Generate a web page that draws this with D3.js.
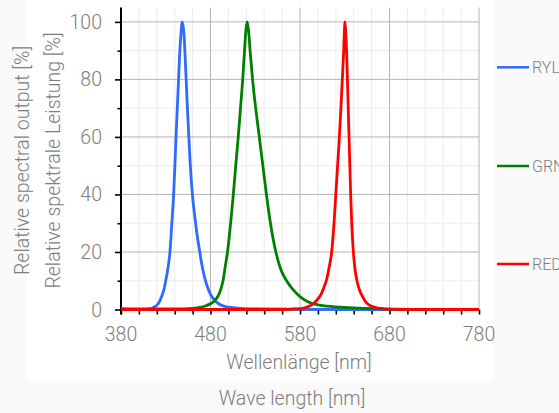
<!DOCTYPE html>
<html>
<head>
<meta charset="utf-8">
<script src="https://cdn.jsdelivr.net/npm/d3@7"></script>
<style>
    html, body { margin: 0; padding: 0; background: #fafafa; }
    svg { display: block; font-family: Roboto, "Open Sans", sans-serif; }
</style>
</head>
<body>
<svg id="chart" width="559" height="413"></svg>
<script>
/* ======================= DATA ========================== */
/* ======================================================= */

// wavelength [nm] / relative output [%]
const rylNm  = [380, 405, 412, 417, 421.5, 425, 428, 430, 432.5, 434.7, 436.8, 438.8, 440.2, 441.5, 442.9, 444.3, 445.6, 446.8, 448.5,
                450.3, 452.5, 454.2, 455.8, 457.3, 459, 460.7, 462.6, 465, 468, 471, 474, 477, 480, 484, 489, 495, 503, 515, 540, 580, 610, 630, 780];
const rylVal = [0, 0, 0.2, 0.8, 2, 4.2, 7, 10, 14.5, 20, 30, 40, 50, 60, 70, 80, 89, 95, 100,
                96, 82, 70, 60, 51, 43, 37, 32, 26, 20, 14.5, 10.5, 7.5, 5.3, 3.4, 2, 1.2, 0.7, 0.4, 0.2, 0.1, 0.05, 0, 0];

const grnNm  = [380, 400, 440, 460, 468, 475, 480, 485, 489, 491.5, 494, 496.5, 499, 502.5, 505.5, 508.2, 511, 513.5, 516, 518, 519.5, 521,
                522.5, 524.5, 527, 530.5, 534.5, 538.5, 542.5, 547, 553, 558.5, 565, 572, 580, 590, 602, 625, 650, 680, 780];
const grnVal = [0.3, 0.2, 0.2, 0.4, 0.7, 1.3, 2, 3.2, 5, 7, 10, 15, 20, 30, 40, 50, 60, 70, 80, 90, 97, 100,
                97, 89, 80, 70, 60, 50, 40, 30, 20, 14, 10, 7, 4.5, 2.5, 1.5, 0.8, 0.4, 0.1, 0];

const redNm  = [380, 560, 575, 584, 590, 595, 599, 603, 606.5, 609.8, 612.8, 615.4, 618, 620, 622, 624, 625.7, 627.3, 628.8, 629.5, 630.3,
                631.1, 632, 632.8, 633.8, 634.8, 635.7, 636.6, 637.8, 639.6, 641.5, 644, 646.5, 649, 654.6, 660, 667, 680, 700, 780];
const redVal = [0, 0, 0.2, 0.5, 1.1, 2, 3.3, 5, 7.5, 10.5, 15, 20, 30, 40, 50, 60, 70, 80, 90, 96, 100,
                96, 90, 82, 71, 60, 50, 40, 30, 20, 14, 9.5, 6.8, 5, 2.2, 1.1, 0.5, 0.15, 0, 0];

const seriesNames  = ["RYL", "GRN", "RED"];
const seriesColors = ["#2f6bff", "#008000", "#ff0000"];

const xTicks      = [380, 480, 580, 680, 780];
const yTicks      = [0, 20, 40, 60, 80, 100];
const xTitleDe    = "Wellenlänge [nm]";
const xTitleEn    = "Wave length [nm]";
const yTitleEn    = "Relative spectral output [%]";
const yTitleDe    = "Relative spektrale Leistung [%]";

/* ======================= SETUP ========================= */
/* ======================================================= */

const margin = {left: 121, top: 7.5};
const viewWidth = 358;
const viewHeight = 302;
const textGrey = "#7d7d7d";
const labelSize = 19.5;

let svg = d3.select("#chart");

let xScale = d3.scaleLinear()
               .domain([380, 780])
               .range([margin.left, margin.left + viewWidth]);
let yScale = d3.scaleLinear()
               .domain([0, 105])
               .range([margin.top + viewHeight, margin.top]);

function translate(x, y) {
    return "translate(" + x + "," + y + ")";
}

function drawBackground() {
    svg.append("rect")
       .attr("x", 27).attr("y", 0)
       .attr("width", 466).attr("height", 381)
       .attr("fill", "#ffffff");
}

function drawGrid() {
    let minorX = d3.range(400, 781, 20).filter(d => d % 100 !== 80);
    let minorY = d3.range(10, 101, 20);
    let grid = svg.append("g").attr("id", "grid");

    grid.selectAll(".vminor").data(minorX).enter().append("line")
        .attr("x1", d => xScale(d)).attr("x2", d => xScale(d))
        .attr("y1", margin.top).attr("y2", margin.top + viewHeight)
        .attr("stroke", "#ececec").attr("stroke-width", 1);
    grid.selectAll(".hminor").data(minorY).enter().append("line")
        .attr("x1", margin.left).attr("x2", margin.left + viewWidth)
        .attr("y1", d => yScale(d)).attr("y2", d => yScale(d))
        .attr("stroke", "#ececec").attr("stroke-width", 1);
    grid.selectAll(".vmajor").data(xTicks.slice(1)).enter().append("line")
        .attr("x1", d => xScale(d)).attr("x2", d => xScale(d))
        .attr("y1", margin.top).attr("y2", margin.top + viewHeight)
        .attr("stroke", "#b4b4b4").attr("stroke-width", 1);
    grid.selectAll(".hmajor").data(yTicks.slice(1)).enter().append("line")
        .attr("x1", margin.left).attr("x2", margin.left + viewWidth)
        .attr("y1", d => yScale(d)).attr("y2", d => yScale(d))
        .attr("stroke", "#b4b4b4").attr("stroke-width", 1);
}

function drawAxes() {
    let axisX = svg.append("g")
                   .attr("transform", translate(0, margin.top + viewHeight));
    axisX.call(d3.axisBottom(xScale).tickValues(d3.range(380, 781, 20)).tickSize(5).tickFormat(""));
    axisX.call(g => g.select(".domain").remove());
    axisX.selectAll(".tick line").attr("stroke", "#000").attr("stroke-width", 1.6);

    svg.append("g").selectAll("text").data(xTicks).enter().append("text")
       .attr("x", d => xScale(d)).attr("y", 340.5)
       .attr("text-anchor", "middle")
       .attr("font-size", labelSize).attr("font-weight", 300)
       .attr("fill", textGrey)
       .text(d => d);

    let axisY = svg.append("g")
                   .attr("transform", translate(margin.left, 0));
    axisY.call(d3.axisLeft(yScale).tickValues(d3.range(0, 101, 10)).tickSize(6).tickFormat(""));
    axisY.select(".domain").attr("stroke", "#000").attr("stroke-width", 2)
         .attr("d", "M0," + margin.top + "V" + (margin.top + viewHeight + 5));
    axisY.selectAll(".tick line")
         .attr("stroke", "#000").attr("stroke-width", 1.6)
         .attr("x2", d => d % 20 === 0 ? -6 : -3.5);

    svg.append("g").selectAll("text").data(yTicks).enter().append("text")
       .attr("x", 102).attr("y", d => yScale(d) + 7)
       .attr("text-anchor", "end")
       .attr("font-size", labelSize).attr("font-weight", 300)
       .attr("fill", textGrey)
       .text(d => d);

    // x axis base line, sits under the curves
    svg.append("line")
       .attr("x1", margin.left).attr("x2", margin.left + viewWidth)
       .attr("y1", yScale(0)).attr("y2", yScale(0))
       .attr("stroke", "#000").attr("stroke-width", 2);
}

function drawTitles() {
    let titles = [
        {t: xTitleDe, x: 299, y: 368.5},
        {t: xTitleEn, x: 292, y: 405}
    ];
    svg.append("g").selectAll("text").data(titles).enter().append("text")
       .attr("x", d => d.x).attr("y", d => d.y)
       .attr("text-anchor", "middle")
       .attr("font-size", labelSize).attr("font-weight", 300)
       .attr("fill", textGrey)
       .text(d => d.t);

    let yTitles = [
        {t: yTitleEn, x: 29, y: 160.5},
        {t: yTitleDe, x: 60, y: 160.5}
    ];
    svg.append("g").selectAll("text").data(yTitles).enter().append("text")
       .attr("transform", d => translate(d.x, d.y) + " rotate(-90)")
       .attr("text-anchor", "middle")
       .attr("font-size", labelSize).attr("font-weight", 300)
       .attr("fill", textGrey)
       .text(d => d.t);
}

function drawSeries() {
    let series = [
        d3.zip(rylNm, rylVal),
        d3.zip(grnNm, grnVal),
        d3.zip(redNm, redVal)
    ];
    let line = d3.line()
                 .x(d => xScale(d[0]))
                 .y(d => yScale(d[1]))
                 .curve(d3.curveMonotoneX);

    svg.append("g").selectAll("path").data(series).enter().append("path")
       .attr("d", line)
       .attr("fill", "none")
       .attr("stroke", (d, i) => seriesColors[i])
       .attr("stroke-width", 2.8)
       .attr("stroke-linejoin", "round");
}

function drawLegend() {
    let legendY = [67.3, 166, 264];
    let legend = svg.append("g").selectAll("g").data(seriesNames).enter().append("g")
                    .attr("transform", (d, i) => translate(497, legendY[i]));
    legend.append("line")
          .attr("x1", 0).attr("x2", 32)
          .attr("stroke", (d, i) => seriesColors[i])
          .attr("stroke-width", 2.5);
    legend.append("text")
          .attr("x", 35).attr("y", 5.6)
          .attr("font-size", 16).attr("font-weight", 300)
          .attr("fill", textGrey)
          .text(d => d);
}

drawBackground();
drawGrid();
drawAxes();
drawSeries();
drawTitles();
drawLegend();
</script>
</body>
</html>
